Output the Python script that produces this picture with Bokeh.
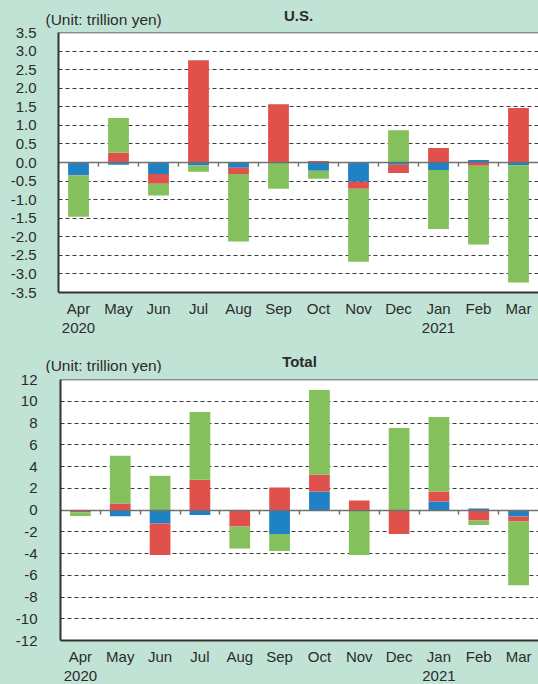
from bokeh.plotting import figure
from bokeh.layouts import column
from bokeh.models import (ColumnDataSource, Range1d, LinearAxis, FixedTicker,
                          NumeralTickFormatter, CustomJSTickFormatter, Span)
from bokeh.core.properties import value
from bokeh.embed import file_html
from bokeh.resources import INLINE

# ---------------- data ----------------
MONTHS = ["Apr", "May", "Jun", "Jul", "Aug", "Sep", "Oct", "Nov", "Dec", "Jan", "Feb", "Mar"]
YEAR_LABELS = {"Apr": "2020", "Jan": "2021"}

US_BLUE = [-0.34, -0.06, -0.31, -0.08, -0.14, 0.00, -0.22, -0.52, -0.06, -0.20, 0.07, -0.08]
US_RED = [-0.01, 0.26, -0.26, 2.75, -0.17, 1.57, 0.04, -0.19, -0.22, 0.39, -0.09, 1.47]
US_GREEN = [-1.11, 0.94, -0.32, -0.17, -1.82, -0.71, -0.22, -1.96, 0.87, -1.59, -2.12, -3.15]

TOTAL_BLUE = [0.00, -0.57, -1.24, -0.47, 0.00, -2.21, 1.69, 0.00, 0.00, 0.78, 0.14, -0.60]
TOTAL_RED = [-0.20, 0.60, -2.90, 2.79, -1.51, 2.06, 1.56, 0.87, -2.21, 0.91, -0.96, -0.45]
TOTAL_GREEN = [-0.36, 4.40, 3.16, 6.23, -2.02, -1.56, 7.78, -4.14, 7.55, 6.87, -0.43, -5.86]

US_Y_TICKS = [-3.5, -3.0, -2.5, -2.0, -1.5, -1.0, -0.5, 0.0, 0.5, 1.0, 1.5, 2.0, 2.5, 3.0, 3.5]
TOTAL_Y_TICKS = [-12, -10, -8, -6, -4, -2, 0, 2, 4, 6, 8, 10, 12]

UNIT_TEXT = "(Unit: trillion yen)"

# ---------------- style ----------------
BG = "#c0e3d6"
SERIES_COLORS = ["#1f82c4", "#e0514b", "#84c05c"]
TEXT_COLOR = "#2b2b2b"
FONT = "Liberation Sans"
WIDTH = 538

N = len(MONTHS)
X_POS = [i + 0.5 for i in range(N)]          # category centres on a linear scale
X_LABELS = [m + ("\n" + YEAR_LABELS[m] if m in YEAR_LABELS else "") for m in MONTHS]


def stack(series_list):
    pos = [0.0] * N
    neg = [0.0] * N
    out = []
    for vals in series_list:
        bottoms, tops = [], []
        for i, v in enumerate(vals):
            if v >= 0:
                bottoms.append(pos[i])
                pos[i] += v
                tops.append(pos[i])
            else:
                bottoms.append(neg[i])
                neg[i] += v
                tops.append(neg[i])
        out.append((bottoms, tops))
    return out


def make_header(height, title, title_x, title_top, unit_x, unit_top):
    # a strip above each chart, in pixel coordinates (y grows downwards)
    h = figure(width=WIDTH, height=height, x_range=Range1d(0, WIDTH),
               y_range=Range1d(height, 0), output_backend="svg", toolbar_location=None,
               x_axis_location=None, y_axis_location=None, frame_align=False,
               min_border=0, border_fill_color=BG, background_fill_color=BG,
               outline_line_color=None)
    h.grid.visible = False
    h.text(x=[unit_x], y=[unit_top], text=[UNIT_TEXT], text_font=value(FONT),
           text_font_size="15.5px", text_align="left", text_baseline="top",
           text_color=TEXT_COLOR)
    h.text(x=[title_x], y=[title_top], text=[title], text_font=value(FONT),
           text_font_size="15px", text_font_style="bold", text_align="center",
           text_baseline="top", text_color=TEXT_COLOR)
    return h


def make_panel(series, yticks, fmt, height, b_top, b_bottom, b_left, y_standoff, overlap):
    p = figure(x_range=Range1d(0, N), y_range=Range1d(yticks[0], yticks[-1]),
               width=WIDTH, height=height, output_backend="svg", toolbar_location=None,
               min_border_left=b_left, min_border_right=0, min_border_top=b_top,
               min_border_bottom=b_bottom, background_fill_color="white",
               border_fill_color=BG, border_fill_alpha=0, outline_line_color=None,
               frame_align=False, margin=(-overlap, 0, 0, 0))

    for (bottoms, tops), color in zip(stack(series), SERIES_COLORS):
        src = ColumnDataSource(dict(x=X_POS, bottom=bottoms, top=tops))
        p.vbar(x="x", bottom="bottom", top="top", width=0.52, source=src,
               fill_color=color, line_color=None)

    # grid
    p.xgrid.visible = False
    p.ygrid.ticker = FixedTicker(ticks=yticks)
    p.ygrid.grid_line_color = "#3a3a3a"
    p.ygrid.grid_line_dash = "4 3"
    p.ygrid.grid_line_width = 1

    # bottom month axis (labels only)
    xa = p.xaxis[0]
    xa.ticker = FixedTicker(ticks=X_POS)
    xa.formatter = CustomJSTickFormatter(args=dict(labels=X_LABELS),
                                         code="return labels[Math.round(tick - 0.5)]")
    xa.major_tick_in = 0
    xa.major_tick_out = 0
    xa.minor_tick_in = 0
    xa.minor_tick_out = 0
    xa.axis_line_color = "#333333"
    xa.axis_line_width = 2
    xa.major_label_standoff = 7
    xa.major_label_text_font = FONT
    xa.major_label_text_font_size = "15px"
    xa.major_label_text_line_height = 1.15
    xa.major_label_text_color = TEXT_COLOR

    # left value axis
    ya = p.yaxis[0]
    ya.ticker = FixedTicker(ticks=yticks)
    ya.formatter = NumeralTickFormatter(format=fmt)
    ya.major_tick_in = 0
    ya.major_tick_out = 0
    ya.minor_tick_in = 0
    ya.minor_tick_out = 0
    ya.axis_line_color = "#333333"
    ya.axis_line_width = 2
    ya.major_label_standoff = y_standoff
    ya.major_label_text_font = FONT
    ya.major_label_text_font_size = "15px"
    ya.major_label_text_color = TEXT_COLOR

    # zero line with ticks at the month boundaries
    za = LinearAxis(fixed_location=0, ticker=FixedTicker(ticks=list(range(1, N))),
                    formatter=CustomJSTickFormatter(code="return ''"))
    za.axis_line_color = "#707070"
    za.axis_line_width = 1.5
    za.major_tick_in = 0
    za.major_tick_out = 4
    za.major_tick_line_color = "#707070"
    za.major_tick_line_width = 1.5
    za.minor_tick_out = 0
    za.minor_tick_in = 0
    za.major_label_text_font_size = "0px"
    za.major_label_standoff = 0
    p.add_layout(za, "below")

    # top border of the plot area
    p.add_layout(Span(location=yticks[-1], dimension="width", line_color="#333333",
                      line_width=1.5))
    return p


# header strips sit underneath the (transparent) top border of each chart
h1 = make_header(30, "U.S.", 298, 6.5, 45, 10.3)
p1 = make_panel([US_BLUE, US_RED, US_GREEN], US_Y_TICKS, "0.0",
                height=339, b_top=32, b_bottom=46, b_left=58, y_standoff=22, overlap=30)
h2 = make_header(34, "Total", 299, 13.5, 45, 17.5)
p2 = make_panel([TOTAL_BLUE, TOTAL_RED, TOTAL_GREEN], TOTAL_Y_TICKS, "0",
                height=348, b_top=40, b_bottom=43, b_left=60, y_standoff=23, overlap=34)

layout = column(h1, p1, h2, p2, spacing=0)

html = file_html(layout, INLINE)
html = html.replace("<head>", "<head><style>html,body{margin:0;padding:0;background:" + BG +
                    ";overflow:hidden;}</style>", 1)
with open("out.html", "w") as f:
    f.write(html)
